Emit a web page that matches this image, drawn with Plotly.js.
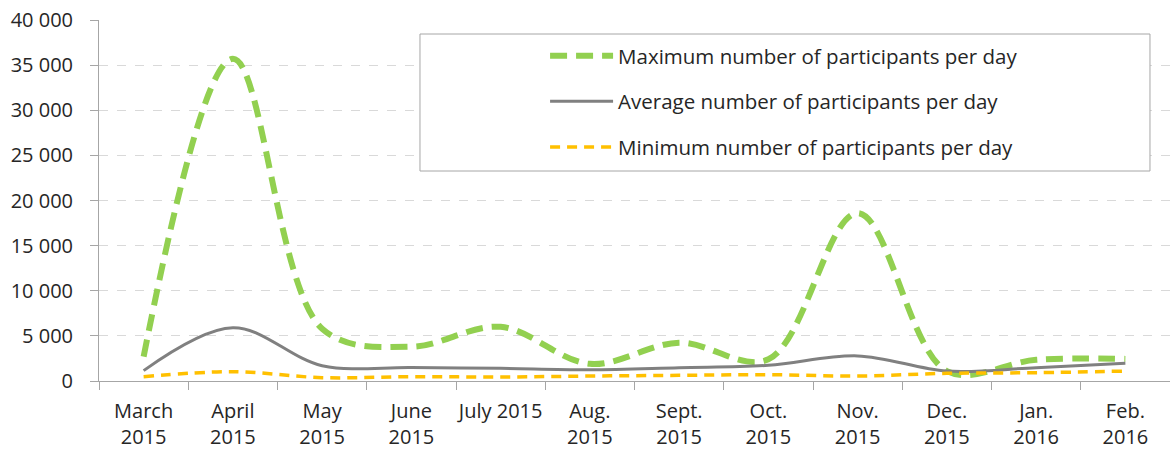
<!DOCTYPE html>
<html>
<head>
<meta charset="utf-8">
<script src="https://cdn.plot.ly/plotly-3.0.1.min.js"></script>
<style>
html,body{margin:0;padding:0;background:#fff;}
#chart{width:1170px;height:450px;}
</style>
</head>
<body>
<div id="chart"></div>
<script>
const categories = ["March<br>2015","April<br>2015","May<br>2015","June<br>2015","July 2015","Aug.<br>2015","Sept.<br>2015","Oct.<br>2015","Nov.<br>2015","Dec.<br>2015","Jan.<br>2016","Feb.<br>2016"];
const maxValues = [2700, 35700, 5800, 3800, 6000, 1900, 4250, 2400, 18600, 1100, 2350, 2450];
const avgValues = [1150, 5900, 1700, 1500, 1400, 1250, 1480, 1740, 2780, 1100, 1480, 1960];
const minValues = [480, 1030, 370, 480, 440, 550, 630, 700, 550, 850, 920, 1100];
const seriesNames = ["Maximum number of participants per day","Average number of participants per day","Minimum number of participants per day"];
const yTickVals = [0,5000,10000,15000,20000,25000,30000,35000,40000];
const yTickText = ["0","5 000","10 000","15 000","20 000","25 000","30 000","35 000","40 000"];

const font = "'Open Sans', sans-serif";
const fs = 20;
const traces = [
  {x: categories, y: maxValues, name: seriesNames[0], legendgroup: "a", type: "scatter", mode: "lines",
   line: {shape: "spline", smoothing: 1, color: "#92D050", width: 6, dash: "17px,9px"}},
  {x: categories, y: avgValues, name: seriesNames[1], legendgroup: "b", type: "scatter", mode: "lines",
   line: {shape: "spline", smoothing: 1, color: "#808080", width: 3}},
  {x: categories, y: minValues, name: seriesNames[2], legendgroup: "c", type: "scatter", mode: "lines",
   line: {shape: "spline", smoothing: 1, color: "#FFC000", width: 3.5, dash: "10px,7px"}}
];

const layout = {
  width: 1170, height: 450,
  margin: {l: 99, r: 0, t: 20, b: 69},
  paper_bgcolor: "#fff", plot_bgcolor: "#fff",
  font: {family: font, size: fs, color: "#262626"},
  showlegend: true,
  legend: {x: 0.4165, y: 0.956, xanchor: "left", yanchor: "top", traceorder: "grouped", tracegroupgap: 16,
           itemwidth: 63, bgcolor: "rgba(0,0,0,0)", borderwidth: 0, font: {family: font, size: 20.5, color: "#262626"}},
  xaxis: {type: "category", range: [-0.5, 11.5], showgrid: false, showline: true, linecolor: "#a6a6a6", linewidth: 1,
          ticks: "outside", tickson: "boundaries", ticklen: 8, tickcolor: "#a6a6a6", zeroline: false, tickangle: 0,
          ticklabelstandoff: 12,
          tickfont: {family: font, size: fs, color: "#262626"}, fixedrange: true},
  yaxis: {range: [0, 40000], tickvals: yTickVals, ticktext: yTickText, showgrid: true, gridcolor: "#d9d9d9",
          griddash: "dash", gridwidth: 1, showline: true, linecolor: "#a6a6a6", linewidth: 1, zeroline: false,
          ticks: "outside", ticklen: 8, tickcolor: "#a6a6a6", ticklabelstandoff: 13,
          tickfont: {family: font, size: fs, color: "#262626"}, fixedrange: true},
  shapes: [{type: "rect", xref: "paper", yref: "paper", x0: 0.2997, x1: 0.9813, y0: 0.5817, y1: 0.9612,
            line: {color: "#a6a6a6", width: 1}, fillcolor: "#fff", layer: "above"}]
};

Plotly.newPlot("chart", traces, layout, {displayModeBar: false, staticPlot: true});
</script>
</body>
</html>
